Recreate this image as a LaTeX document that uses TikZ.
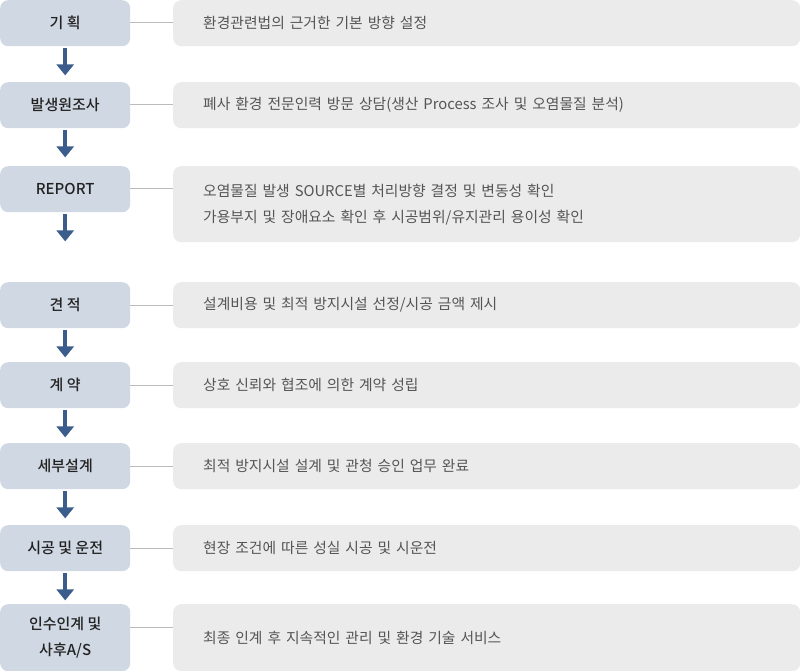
\documentclass[tikz,border=0pt]{standalone}
\usepackage{fontspec}
\setmainfont{Noto Sans CJK KR}[BoldFont={Noto Sans CJK KR Medium}]
\usetikzlibrary{arrows.meta}
\definecolor{lbox}{HTML}{D0D8E3}
\definecolor{rbox}{HTML}{EBEBEB}
\definecolor{arrc}{HTML}{3A5D8C}
\definecolor{ltext}{HTML}{222222}
\definecolor{rtext}{HTML}{555555}
\definecolor{connc}{HTML}{BBBBBB}
\begin{document}
\begin{tikzpicture}[x=1pt,y=-1pt,
  stepbox/.style={fill=lbox, rounded corners=8pt, minimum width=130pt, minimum height=46pt, inner sep=0pt, anchor=north west, align=center, text=ltext, font=\fontsize{15}{26}\selectfont\bfseries},
  descbox/.style={fill=rbox, rounded corners=8pt, minimum width=627pt, text width=567pt, minimum height=46pt, inner xsep=30pt, inner ysep=0pt, anchor=north west, align=left, text=rtext, font=\fontsize{14.8}{26}\selectfont},
  arr/.style={draw=arrc, line width=3.5pt, -{Triangle[width=17pt,length=11pt]}},
  conn/.style={draw=connc, line width=1pt}]
\useasboundingbox (0,0) rectangle (800,671);
% left boxes
\node[stepbox] (s1) at (0,0) {기 획};
\node[stepbox] (s2) at (0,82) {발생원조사};
\node[stepbox] (s3) at (0,166) {REPORT};
\node[stepbox] (s4) at (0,282) {견 적};
\node[stepbox] (s5) at (0,362) {계 약};
\node[stepbox] (s6) at (0,443) {세부설계};
\node[stepbox] (s7) at (0,525) {시공 및 운전};
\node[stepbox, minimum height=67pt] (s8) at (0,604) {인수인계 및\\사후A/S};
% right boxes
\node[descbox] (d1) at (173,0) {환경관련법의 근거한 기본 방향 설정};
\node[descbox] (d2) at (173,82) {폐사 환경 전문인력 방문 상담(생산 Process 조사 및 오염물질 분석)};
\node[descbox, minimum height=76pt] (d3) at (173,166) {오염물질 발생 SOURCE별 처리방향 결정 및 변동성 확인\\가용부지 및 장애요소 확인 후 시공범위/유지관리 용이성 확인};
\node[descbox] (d4) at (173,282) {설계비용 및 최적 방지시설 선정/시공 금액 제시};
\node[descbox] (d5) at (173,362) {상호 신뢰와 협조에 의한 계약 성립};
\node[descbox] (d6) at (173,443) {최적 방지시설 설계 및 관청 승인 업무 완료};
\node[descbox] (d7) at (173,525) {현장 조건에 따른 성실 시공 및 시운전};
\node[descbox, minimum height=67pt] (d8) at (173,604) {최종 인계 후 지속적인 관리 및 환경 기술 서비스};
% connectors
\foreach \i in {1,...,8}{
  \draw[conn] ([yshift=-23pt]s\i.north east) -- ([yshift=-23pt]s\i.north east -| d\i.west);
}
% arrows
\foreach \i in {1,...,7}{
  \draw[arr] ([yshift=-2pt]s\i.south) -- ([yshift=-29pt]s\i.south);
}
\end{tikzpicture}
\end{document}
